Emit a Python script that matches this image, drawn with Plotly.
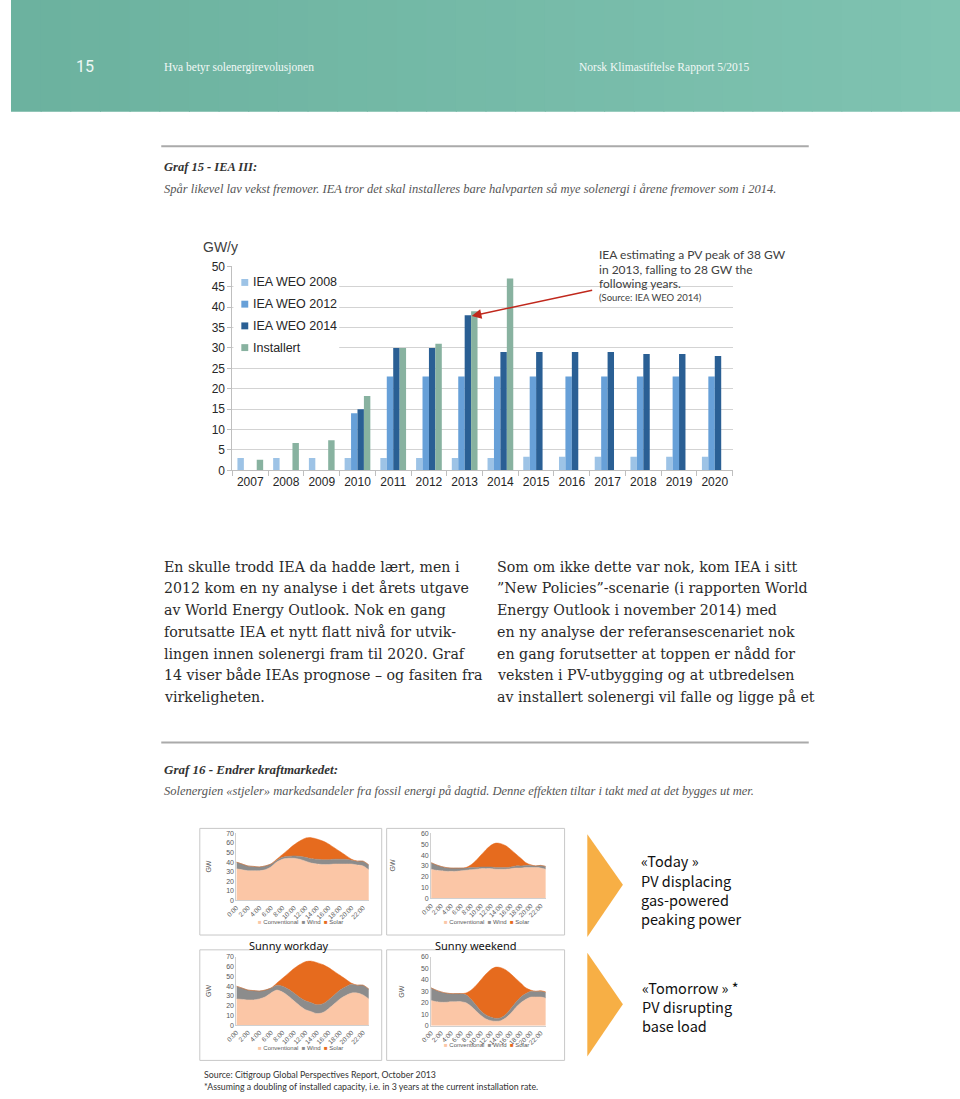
import plotly.graph_objects as go

W, H = 960, 1099
def px(x): return x / W
def py(y): return 1 - y / H

# ---------------- Data: Graf 15 ----------------
years = ["2007", "2008", "2009", "2010", "2011", "2012", "2013",
         "2014", "2015", "2016", "2017", "2018", "2019", "2020"]
weo2008 = [3.0, 3.0, 3.0, 3.0, 3.0, 3.0, 3.0, 3.0, 3.3, 3.3, 3.3, 3.3, 3.3, 3.3]
weo2012 = [None, None, None, 14, 23, 23, 23, 23, 23, 23, 23, 23, 23, 23]
weo2014 = [None, None, None, 15, 30, 30, 38, 29, 29, 29, 29, 28.5, 28.5, 28]
installert = [2.6, 6.7, 7.4, 18.2, 30, 31, 39, 47, None, None, None, None, None, None]
series_names = ["IEA WEO 2008", "IEA WEO 2012", "IEA WEO 2014", "Installert"]
series_colors = ["#9dc3e6", "#67a0d8", "#2a5f94", "#88b2a0"]

# ---------------- Data: Graf 16 (GW per hour) ----------------
hours = list(range(24))
hour_ticks = [0, 2, 4, 6, 8, 10, 12, 14, 16, 18, 20, 22]
hour_labels = ["0:00", "2:00", "4:00", "6:00", "8:00", "10:00", "12:00",
               "14:00", "16:00", "18:00", "20:00", "22:00"]

# Today - sunny workday
conv_tw = [33, 32, 31, 31, 31, 32, 35, 40, 43, 44, 44, 43, 41, 39, 38, 37.5, 37.5, 38, 38, 38, 38, 37, 36, 32]
wind_tw = [7, 6, 5, 4.5, 4, 4, 3, 2, 2, 2, 2.5, 3, 4, 4.5, 5, 5, 5, 5, 5, 5, 4, 4, 5, 5]
solar_tw = [0, 0, 0, 0, 0, 0, 0, 1, 3, 7, 11.5, 16, 20, 22, 21, 19.5, 16.5, 12, 8, 4, 1, 0, 0, 0]
# Today - sunny weekend
conv_te = [27, 26, 25.5, 25, 25, 25, 25.5, 26, 26.5, 27, 27.5, 27.5, 27.5, 27, 27, 27, 27.5, 28, 28, 28.5, 28.5, 28.5, 28, 27]
wind_te = [6, 5, 4, 3.5, 3, 3, 2.5, 2, 2, 1.5, 1.5, 1.5, 1.5, 1.5, 1.5, 1.5, 1.5, 2, 2, 2, 2, 1.5, 2.5, 2.5]
solar_te = [0, 0, 0, 0, 0, 0, 0, 0.5, 2.5, 6.5, 11, 16, 20, 22.5, 22, 20, 16, 11, 7, 2.5, 0.5, 0, 0, 0]
# Tomorrow - sunny workday
conv_mw = [27, 26.5, 26, 26, 27, 29, 33, 36, 34, 30, 25, 20, 16, 14, 12, 13, 17, 22, 27, 30.5, 33, 33, 31, 27]
wind_mw = [13, 11.5, 10, 9.5, 8, 7, 5, 5, 6, 7, 8, 8.5, 9, 9, 9, 9, 9, 9, 9, 9, 9, 8, 10, 10]
solar_mw = [0, 0, 0, 0, 0, 0, 0, 2, 8, 16, 25, 33.5, 40, 42.5, 43, 40, 33, 24, 15, 7.5, 1, 0, 0, 0]
# Tomorrow - sunny weekend
conv_me = [22, 21, 20.5, 20.5, 21, 21, 21, 20, 17, 13, 9, 6, 4.5, 4, 4.5, 7, 11, 16, 20, 23, 25, 25, 25, 24]
wind_me = [11, 10, 9, 8, 7, 7, 7, 7, 6, 5, 4, 3.5, 3, 2.5, 2.5, 3, 4, 4.5, 5, 5, 5, 5, 5, 5]
solar_me = [0, 0, 0, 0, 0, 0, 0, 1.5, 8, 17, 27, 35.5, 41.5, 44.5, 43.5, 38.5, 30, 20.5, 12, 5, 1, 0, 0.5, 0.5]

area_colors = {"Conventional": "#fbc6a6", "Wind": "#8c8c8c", "Solar": "#e66b1e"}

fig = go.Figure()

# ---------- bar chart ----------
for name, vals, col in zip(series_names, [weo2008, weo2012, weo2014, installert], series_colors):
    fig.add_trace(go.Bar(x=years, y=vals, name=name, marker=dict(color=col, line=dict(width=0)),
                         xaxis="x", yaxis="y", showlegend=False))

# ---------- area charts ----------
panels = [
    ("x2", "y2", conv_tw, wind_tw, solar_tw, "tw"),
    ("x3", "y3", conv_te, wind_te, solar_te, "te"),
    ("x4", "y4", conv_mw, wind_mw, solar_mw, "mw"),
    ("x5", "y5", conv_me, wind_me, solar_me, "me"),
]
for xa, ya, c, w, s, g in panels:
    for nm, vals in (("Conventional", c), ("Wind", w), ("Solar", s)):
        fig.add_trace(go.Scatter(x=hours, y=vals, name=nm, stackgroup=g, mode="lines",
                                 line=dict(width=0.5, color=area_colors[nm], shape="spline", smoothing=0.8),
                                 fillcolor=area_colors[nm], xaxis=xa, yaxis=ya, showlegend=False,
                                 hoverinfo="skip"))

shapes = []
annotations = []

# header gradient band
n = 32
for i in range(n):
    t = i / (n - 1)
    r = int(108 + (127 - 108) * t)
    gg = int(178 + (195 - 178) * t)
    b = int(159 + (177 - 159) * t)
    shapes.append(dict(type="rect", xref="paper", yref="paper",
                       x0=px(i * W / n), x1=px((i + 1) * W / n + 1), y0=py(106), y1=py(0) + 0.01,
                       fillcolor=f"rgb({r},{gg},{b})", line=dict(width=0), layer="below"))

def text(x, y, s, size, color="#333", family="Liberation Serif", xanchor="left", **kw):
    annotations.append(dict(x=px(x), y=py(y), xref="paper", yref="paper", text=s, showarrow=False,
                            xanchor=xanchor, yanchor="middle",
                            font=dict(size=size, color=color, family=family), **kw))

text(75, 60, "15", 16, "#eef7f4", "Roboto", xanchor="center")
text(153, 61, "Hva betyr solenergirevolusjonen", 11.5, "#f2f8f6")
text(573, 61, "Norsk Klimastiftelse Rapport 5/2015", 11.5, "#f2f8f6")

# rules
for yy in (141, 745):
    shapes.append(dict(type="line", xref="paper", yref="paper", x0=px(152), x1=px(807),
                       y0=py(yy), y1=py(yy), line=dict(color="#aaaaaa", width=2)))

text(153, 162, "<b><i>Graf 15 - IEA III:</i></b>", 12.5, "#333")
text(153, 184, "<i>Spår likevel lav vekst fremover. IEA tror det skal installeres bare halvparten så mye solenergi i årene fremover som i 2014.</i>", 12.5, "#555")

# bar chart labels
text(192, 243, "GW/y", 14, "#404040", "Liberation Sans")
# legend (manual)
shapes.append(dict(type="rect", xref="paper", yref="paper", x0=px(225), x1=px(332), y0=py(356), y1=py(269),
                   fillcolor="white", line=dict(width=0), layer="above"))
for i, (nm, col) in enumerate(zip(series_names, series_colors)):
    yy = 279 + 22 * i
    shapes.append(dict(type="rect", xref="paper", yref="paper", x0=px(233), x1=px(240),
                       y0=py(yy + 3.5), y1=py(yy - 3.5), fillcolor=col, line=dict(width=0), layer="above"))
    text(243, yy, nm, 12.5, "#262626", "Liberation Sans")

# annotation text + arrow
text(593, 251, "IEA estimating a PV peak of 38 GW", 12, "#404040", "Lato")
text(593, 266, "in 2013, falling to 28 GW the", 12, "#404040", "Lato")
text(593, 280, "following years.", 12, "#404040", "Lato")
text(593, 294, "(Source: IEA WEO 2014)", 9.5, "#404040", "Lato")
annotations.append(dict(x=px(466), y=py(313), xref="paper", yref="paper", text="", showarrow=True,
                        ax=122, ay=-26, arrowcolor="#c0281c", arrowwidth=1.5, arrowhead=2, arrowsize=1.3))

# paragraphs
left_lines = ["En skulle trodd IEA da hadde lært, men i",
              "2012 kom en ny analyse i det årets utgave",
              "av World Energy Outlook. Nok en gang",
              "forutsatte IEA et nytt flatt nivå for utvik-",
              "lingen innen solenergi fram til 2020. Graf",
              "14 viser både IEAs prognose – og fasiten fra",
              "virkeligheten."]
right_lines = ["Som om ikke dette var nok, kom IEA i sitt",
               "”New Policies”-scenarie (i rapporten World",
               "Energy Outlook i november 2014) med",
               "en ny analyse der referansescenariet nok",
               "en gang forutsetter at toppen er nådd for",
               "veksten i PV-utbygging og at utbredelsen",
               "av installert solenergi vil falle og ligge på et"]
for i, s in enumerate(left_lines):
    text(153, 567 + 22 * i, s, 14.2, "#2a2a2a", "DejaVu Serif")
for i, s in enumerate(right_lines):
    text(490, 567 + 22 * i, s, 14.2, "#2a2a2a", "DejaVu Serif")

text(153, 772, "<b><i>Graf 16 - Endrer kraftmarkedet:</i></b>", 13, "#333")
text(153, 794, "<i>Solenergien «stjeler» markedsandeler fra fossil energi på dagtid. Denne effekten tiltar i takt med at det bygges ut mer.</i>", 12.5, "#555")

# panel borders
for (x0, x1, y0, y1) in [(191, 375, 832, 940), (380, 560, 832, 940), (191, 375, 955, 1067), (380, 560, 955, 1067)]:
    shapes.append(dict(type="rect", xref="paper", yref="paper", x0=px(x0), x1=px(x1), y0=py(y1), y1=py(y0),
                       fillcolor="rgba(0,0,0,0)", line=dict(color="#c8c8c8", width=1)))

text(281, 951, "Sunny workday", 11, "#111", "Noto Sans", xanchor="center")
text(470, 951, "Sunny weekend", 11, "#111", "Noto Sans", xanchor="center")

mini_leg = ('<span style="color:#fbc6a6">■</span> Conventional  '
            '<span style="color:#8c8c8c">■</span> Wind  '
            '<span style="color:#e66b1e">■</span> Solar')
for (cx, cy) in [(293, 927), (481, 927), (293, 1054), (481, 1051)]:
    text(cx, cy, mini_leg, 6, "#595959", "Liberation Sans", xanchor="center")
for (gx, gy) in [(200, 871), (386, 870), (200, 997), (395, 997)]:
    text(gx, gy, "GW", 7, "#595959", "Liberation Sans", xanchor="center", textangle=-90)

# chevrons
for (yt, ya, yb) in [(838, 889, 942), (958, 1010, 1063)]:
    shapes.append(dict(type="path", xref="paper", yref="paper",
                       path=f"M {px(583)},{py(yt)} L {px(619)},{py(ya)} L {px(583)},{py(yb)} Z",
                       fillcolor="#f7af45", line=dict(width=0)))
for i, s in enumerate(["«Today »", "PV displacing", "gas-powered", "peaking power"]):
    text(635, 865 + 19.5 * i, s, 14.5, "#111", "Noto Sans CJK KR")
for i, s in enumerate(["«Tomorrow » *", "PV disrupting", "base load"]):
    text(636, 993 + 19.5 * i, s, 14.5, "#111", "Noto Sans CJK KR")

text(193, 1081, "Source: Citigroup Global Perspectives Report, October 2013", 8.8, "#333", "Lato")
text(193, 1093, "*Assuming a doubling of installed capacity, i.e. in 3 years at the current installation rate.", 8.8, "#333", "Lato")

# ---------- layout ----------
small_x = dict(range=[0, 23], tickvals=hour_ticks, ticktext=hour_labels, tickangle=-45,
               tickfont=dict(size=6.5, color="#595959", family="Liberation Sans"),
               showgrid=False, showline=True, linecolor="#d0d0d0", ticks="", zeroline=False, fixedrange=True)
def small_y(rng, dom, anchor):
    return dict(range=rng, dtick=10, domain=dom, anchor=anchor, showgrid=False, showline=True,
                linecolor="#d0d0d0", zeroline=False, ticks="",
                tickfont=dict(size=7, color="#595959", family="Liberation Sans"))

fig.update_layout(
    autosize=True,
    margin=dict(l=0, r=0, t=0, b=0),
    paper_bgcolor="white", plot_bgcolor="white",
    barmode="group", bargap=0.28, bargroupgap=0,
    showlegend=False,
    xaxis=dict(domain=[px(224), px(730)], anchor="y", type="category", showgrid=False,
               showline=True, linecolor="#bfbfbf", ticks="outside", tickson="boundaries",
               ticklen=5, tickcolor="#bfbfbf", tickangle=0,
               tickfont=dict(size=12, color="#262626", family="Liberation Sans")),
    yaxis=dict(domain=[py(469.3), py(262.7)], anchor="x", range=[0, 50], dtick=5,
               gridcolor="#d3d3d3", showline=True, linecolor="#bfbfbf", ticks="outside",
               ticklen=4, tickcolor="#bfbfbf", zeroline=False,
               tickfont=dict(size=12, color="#262626", family="Liberation Sans")),
    xaxis2=dict(domain=[px(228), px(362)], anchor="y2", **small_x),
    yaxis2=small_y([0, 70], [py(905), py(837)], "x2"),
    xaxis3=dict(domain=[px(425), px(541)], anchor="y3", **small_x),
    yaxis3=small_y([0, 60], [py(903), py(837)], "x3"),
    xaxis4=dict(domain=[px(228), px(362)], anchor="y4", **small_x),
    yaxis4=small_y([0, 70], [py(1031.5), py(962)], "x4"),
    xaxis5=dict(domain=[px(425), px(541)], anchor="y5", **small_x),
    yaxis5=small_y([0, 60], [py(1032), py(962)], "x5"),
    shapes=shapes,
    annotations=annotations,
)

fig.write_html("out.html",
               config={"displayModeBar": False},
               default_width="100vw; position:fixed; left:0; top:0; margin:0",
               default_height="100vh",
               post_script="document.documentElement.style.margin='0';document.body.style.margin='0';document.body.style.overflow='hidden';")
